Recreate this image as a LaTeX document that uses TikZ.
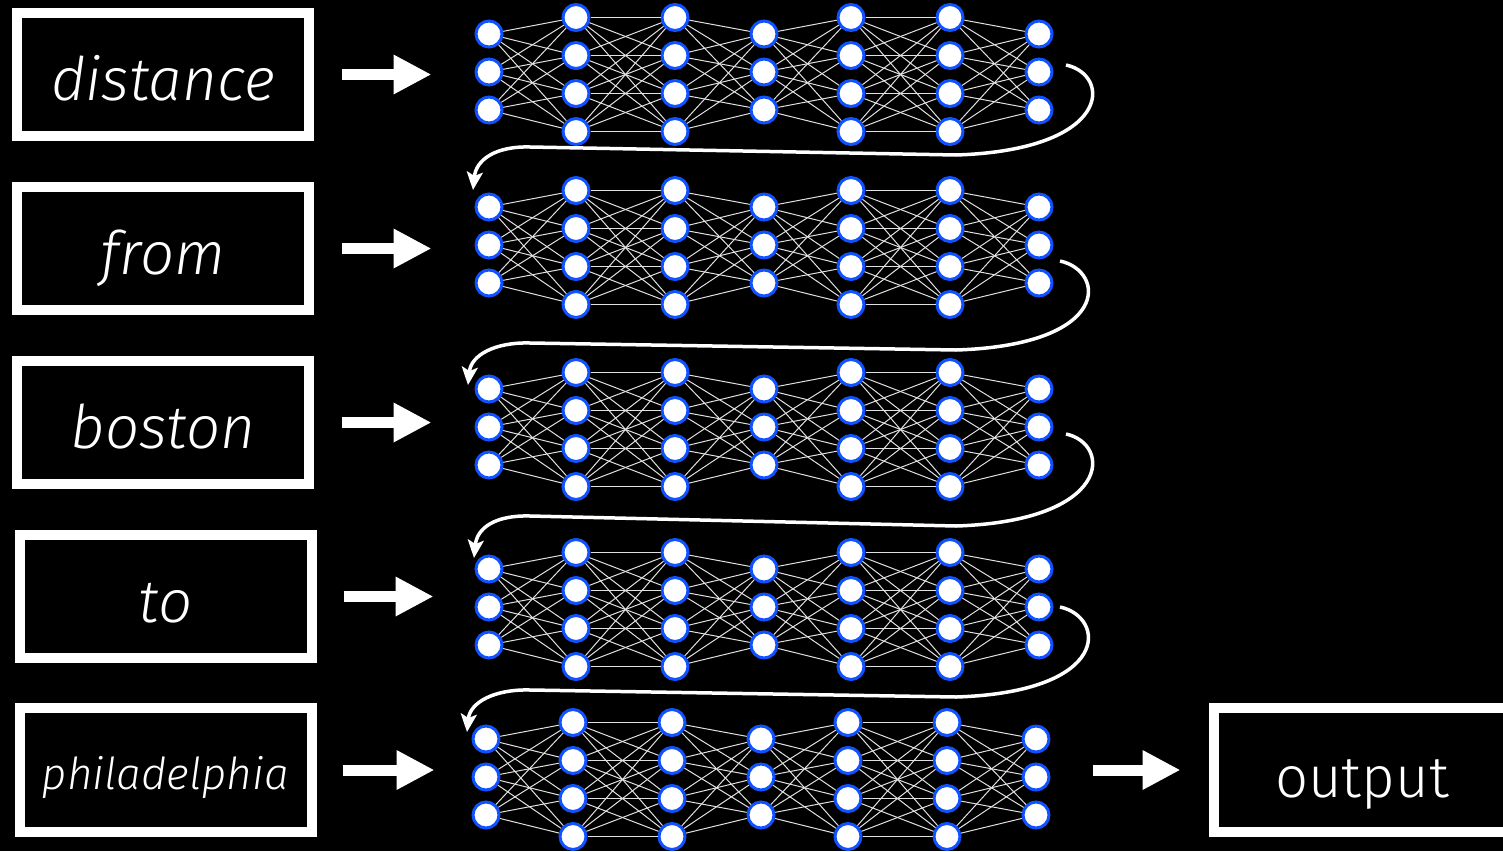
\documentclass[tikz,border=0pt]{standalone}
\usepackage{fontspec}
\setmainfont{Fira Sans}[UprightFont=* Light, ItalicFont=* Light Italic]
\usetikzlibrary{arrows.meta,calc}

\definecolor{nnblue}{RGB}{16,82,255}
\definecolor{wire}{RGB}{225,225,225}

\tikzset{
  wordbox/.style={draw=white, line width=10pt, fill=black, text=white,
    minimum width=292pt, minimum height=123pt, inner sep=0pt,
    text height=51pt, text depth=0pt,
    font=\itshape\fontsize{60}{60}\selectfont},
  neuron/.style={circle, draw=nnblue, fill=white, line width=3pt,
    minimum size=26pt, inner sep=0pt},
  synapse/.style={draw=wire, line width=1pt},
  feed/.style={draw=white, line width=11pt, -{Triangle[length=38pt,width=37pt]}},
  loopback/.style={draw=white, line width=3.5pt,
    -{Stealth[length=18pt,width=16pt,inset=4pt]}},
}

\begin{document}
\begin{tikzpicture}[x=1pt, y=-1pt]
    \clip (0,0) rectangle (1503,851);
    \fill[black] (0,0) rectangle (1503,851);

    % words
    \node[wordbox] (w1) at (163,74.5) {distance};
    \node[wordbox] (w2) at (163,248.5) {from};
    \node[wordbox] (w3) at (163,422.5) {boston};
    \node[wordbox] (w4) at (165.5,596.5) {to};
    \node[wordbox, minimum height=124pt, text height=38pt,
          font=\itshape\fontsize{44}{44}\selectfont] (w5) at (165.5,770) {philadelphia};
    \node[wordbox, minimum width=297pt, minimum height=124pt, text height=54pt,
          font=\fontsize{58}{58}\selectfont] (out) at (1362,770) {output};

    % one network per word, layers 3-4-4-3-4-4-3
    \foreach \r/\x/\c in {1/489/72, 2/489/245, 3/489/427, 4/489/607, 5/486/777} {
        \foreach \l/\dx/\n in {1/0/3, 2/87/4, 3/186/4, 4/275/3, 5/362/4, 6/461/4, 7/550/3} {
            \foreach \k in {1,...,\n} {
                \pgfmathsetmacro\dy{\n==3 ? (\k-2)*38 : (\k-2.5)*38+2.5}
                \node[neuron] (n-\r-\l-\k) at (\x+\dx, \c+\dy) {};
            }
        }
    }
    \foreach \r in {1,...,5} {
        \foreach \l/\n/\m in {1/3/4, 2/4/4, 3/4/3, 4/3/4, 5/4/4, 6/4/3} {
            \pgfmathtruncatemacro\lp{\l+1}
            \foreach \i in {1,...,\n} {
                \foreach \j in {1,...,\m} {
                    \draw[synapse] (n-\r-\l-\i) -- (n-\r-\lp-\j);
                }
            }
        }
    }

    % word -> network
    \foreach \r/\a/\b in {1/28/43, 2/28/43, 3/28/43, 4/27/41, 5/26/37} {
        \draw[feed, shorten <=\a pt, shorten >=\b pt] (w\r.east) -- (w\r.east -| n-\r-1-2.west);
    }
    \draw[feed, shorten <=42pt, shorten >=28pt] (n-5-7-2.east |- out.west) -- (out.west);

    % hidden state carried to the next row
    \foreach \r/\sx/\sy/\b/\l/\tx/\ty in {1/1066/65/155/147/473/190, 2/1060/261/350/343/468/385,
                                           3/1066/434/526/516/474/558, 4/1060/607/697/690/467/732} {
        \coordinate (s\r) at (\sx,\sy);
        \coordinate (t\r) at (\tx,\ty);
        \draw[loopback] (s\r) .. controls +(46,10) and +(156,-5) .. (956,\b)
            -- (530,\l) .. controls +(-35,-1) and +(3,-30) .. (t\r);
    }
\end{tikzpicture}
\end{document}
